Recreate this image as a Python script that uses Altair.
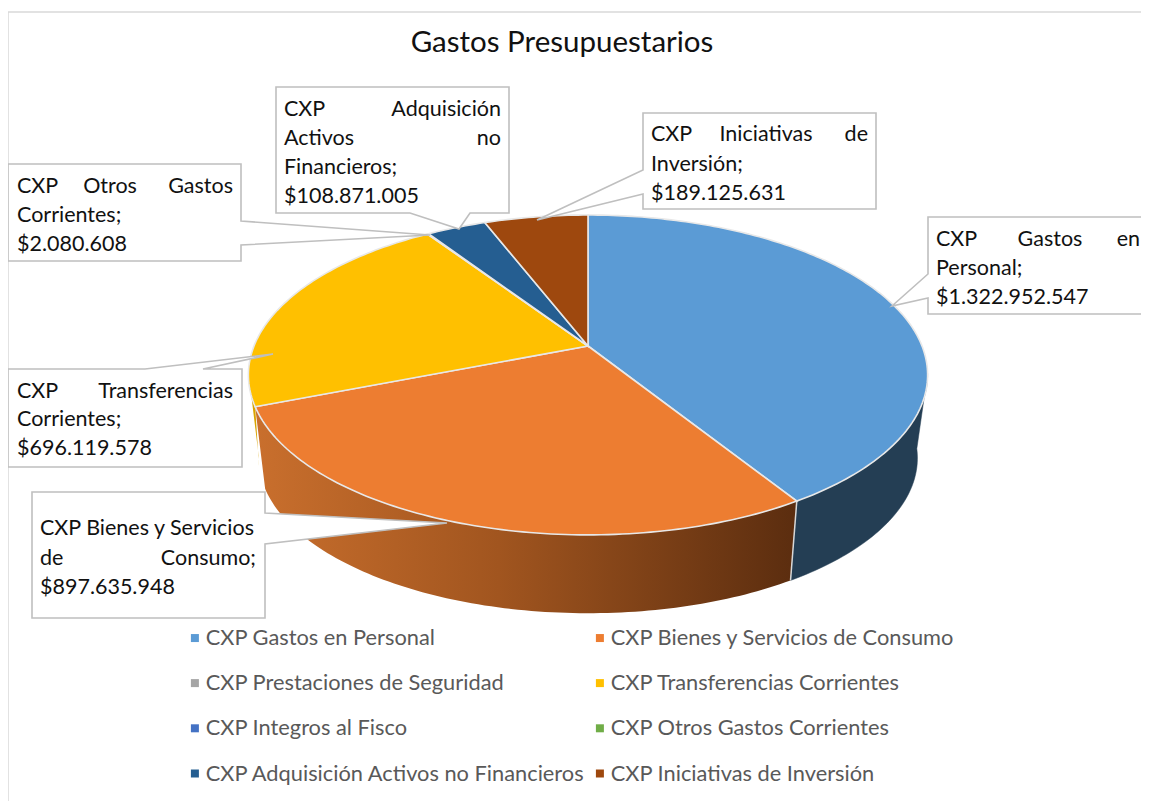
import math
import altair as alt
import pandas as pd

# ---- data
categories = ["CXP Gastos en Personal", "CXP Bienes y Servicios de Consumo",
              "CXP Prestaciones de Seguridad", "CXP Transferencias Corrientes",
              "CXP Integros al Fisco", "CXP Otros Gastos Corrientes",
              "CXP Adquisición Activos no Financieros", "CXP Iniciativas de Inversión"]
values = [1322952547, 897635948, 0, 696119578, 0, 2080608, 108871005, 189125631]
colors = ["#5B9BD5", "#ED7D31", "#A5A5A5", "#FFC000", "#4472C4", "#70AD47", "#255E91", "#9E480E"]
title_text = "Gastos Presupuestarios"
label_words = [
    "CXP", "Otros", "Gastos", "Corrientes;", "$2.080.608",
    "CXP", "Adquisición", "Activos", "no", "Financieros;", "$108.871.005",
    "CXP", "Iniciativas", "de", "Inversión;", "$189.125.631",
    "CXP", "Gastos", "en", "Personal;", "$1.322.952.547",
    "CXP", "Transferencias", "Corrientes;", "$696.119.578",
    "CXP Bienes y Servicios", "de", "Consumo;", "$897.635.948",
]

# ---- layout (image pixels)
W, H = 1133, 793
OX, OY = 8, 8
CX, CY, A, B, K = 588, 346, 334, 154.7, 0.181   # tilted-disc projection of the pie
DEPTH, SHRINK = 84, 0.97
word_pos = [
    (17, 187, "left"), (110, 187, "center"), (233, 187, "right"), (17, 216, "left"), (17, 245, "left"),
    (284, 110, "left"), (501, 110, "right"), (284, 139, "left"), (501, 139, "right"), (284, 168, "left"), (284, 197, "left"),
    (651, 135, "left"), (766, 135, "center"), (868, 135, "right"), (651, 165, "left"), (651, 194, "left"),
    (936, 240, "left"), (1050, 240, "center"), (1140, 240, "right"), (936, 269, "left"), (936, 298, "left"),
    (17, 392, "left"), (233, 392, "right"), (17, 420, "left"), (17, 449, "left"),
    (40, 529, "left"), (40, 559, "left"), (256, 559, "right"), (40, 588, "left"),
]
callouts = [
    [(8, 164), (241, 164), (241, 221), (430, 235), (241, 245), (241, 261), (8, 261)],
    [(276, 87), (509, 87), (509, 213), (470, 213), (459, 229), (410, 213), (276, 213)],
    [(643, 113), (876, 113), (876, 209), (643, 209), (643, 194), (537, 220), (643, 170)],
    [(928, 217), (1170, 217), (1170, 314), (928, 314), (928, 298), (892, 306), (928, 274)],
    [(8, 369), (145, 369), (273, 354), (203, 369), (242, 369), (242, 467), (8, 467)],
    [(32, 492), (265, 492), (265, 513), (447, 523), (265, 544), (265, 618), (32, 618)],
]
frame = [(8, 830), (8, 12), (1170, 12)]


def top(t):
    r = math.radians(t)
    u, v = math.sin(r), -math.cos(r)
    d = 1 - K * v
    return (CX + A * u / d, CY + B * v / d)


def bottom(t):
    r = math.radians(t)
    u, v = math.sin(r), -math.cos(r)
    d = 1 - K * v
    return (CX + SHRINK * A * u / d, CY + DEPTH + SHRINK * B * v / d)


def sweep(f, t0, t1, step=1.0):
    n = max(2, int(abs(t1 - t0) / step) + 1)
    return [f(t0 + (t1 - t0) * i / (n - 1)) for i in range(n)]


def poly(pts, name=""):
    ring = [list(p) for p in pts] + [list(pts[0])]
    return {"type": "Feature", "properties": {"name": name},
            "geometry": {"type": "Polygon", "coordinates": [ring]}}


def line(pts):
    return {"type": "Feature", "properties": {},
            "geometry": {"type": "LineString", "coordinates": [list(p) for p in pts]}}


total = sum(values)
bounds = {}
faces = []
acc = 0
for c, v in zip(categories, values):
    t0 = 360 * acc / total
    acc += v
    t1 = 360 * acc / total
    bounds[c] = (t0, t1)
    if v > 0:
        faces.append(poly([(CX, CY)] + sweep(top, t0, t1), c))


def wall(ta, tb, bb=None):
    return [poly(sweep(top, ta, tb) + sweep(bottom, tb, bb if bb is not None else ta))]


def shapes(feats, **mark):
    return alt.Chart(alt.Data(values=feats)).mark_geoshape(**mark).project(**{
        "type": "identity", "scale": 1, "translate": [-OX, -OY]})


t_b = bounds[categories[0]][1]
t_o = bounds[categories[1]][1]

blue_wall = shapes(wall(100, t_b, 97), fill="#243E54", stroke="#243E54", strokeWidth=0.5)
orange_grad = alt.LinearGradient(gradient="linear", x1=0, x2=1, y1=0, y2=0, stops=[
    alt.GradientStop(offset=0, color="#C96F2D"),
    alt.GradientStop(offset=0.45, color="#A1551F"),
    alt.GradientStop(offset=1, color="#5B2D0F"),
])
orange_wall = shapes(wall(t_b, t_o), fill=orange_grad, stroke="#5B2D0F", strokeWidth=0)
yellow_wall = shapes(wall(t_o, t_o + 12, t_o + 8), fill="#D9A400", strokeWidth=0)
edges = shapes([line([top(t_b), bottom(t_b)])], filled=False, stroke="#D8D8D8", strokeWidth=1.5)

face_layer = shapes(faces, stroke="#E8E8E8", strokeWidth=1.6).encode(
    color=alt.Color("properties.name:N",
                    scale=alt.Scale(domain=categories, range=colors),
                    legend=alt.Legend(title=None, orient="none", legendX=176, legendY=619,
                                      columns=2, direction="horizontal", symbolType="square",
                                      symbolSize=64, symbolStrokeWidth=0, labelFont="Lato",
                                      labelFontSize=21.8, labelColor="#595959", labelLimit=500,
                                      labelOffset=0, rowPadding=22.2, columnPadding=3)))

frame_layer = shapes([line(frame)], filled=False, stroke="#D9D9D9", strokeWidth=1.5)
callout_layer = shapes([poly(p) for p in callouts], fill="white", stroke="#BFBFBF", strokeWidth=1.6)

words = pd.DataFrame({"t": label_words,
                      "x": [p[0] - OX for p in word_pos],
                      "y": [p[1] - OY for p in word_pos],
                      "a": [p[2] for p in word_pos]})


def text_layer(df, align, size, color):
    return alt.Chart(df).mark_text(align=align, baseline="middle", font="Lato",
                                   fontSize=size, color=color).encode(
        x=alt.X("x:Q", scale=None, axis=None),
        y=alt.Y("y:Q", scale=None, axis=None),
        text="t:N")


text_layers = [text_layer(words[words.a == a], a, 21.5, "#111111") for a in ("left", "center", "right")]
title_layer = text_layer(pd.DataFrame({"t": [title_text], "x": [562 - OX], "y": [43 - OY]}),
                         "center", 29.5, "#111111")

chart = alt.layer(frame_layer, yellow_wall, blue_wall, orange_wall, edges, face_layer,
                  callout_layer, *text_layers, title_layer).properties(
    width=W, height=H, padding=0, autosize=alt.AutoSizeParams(type="none"),
    background="white",
).configure_view(stroke=None)

chart.save("out.html", embed_options={"renderer": "svg", "actions": False})
